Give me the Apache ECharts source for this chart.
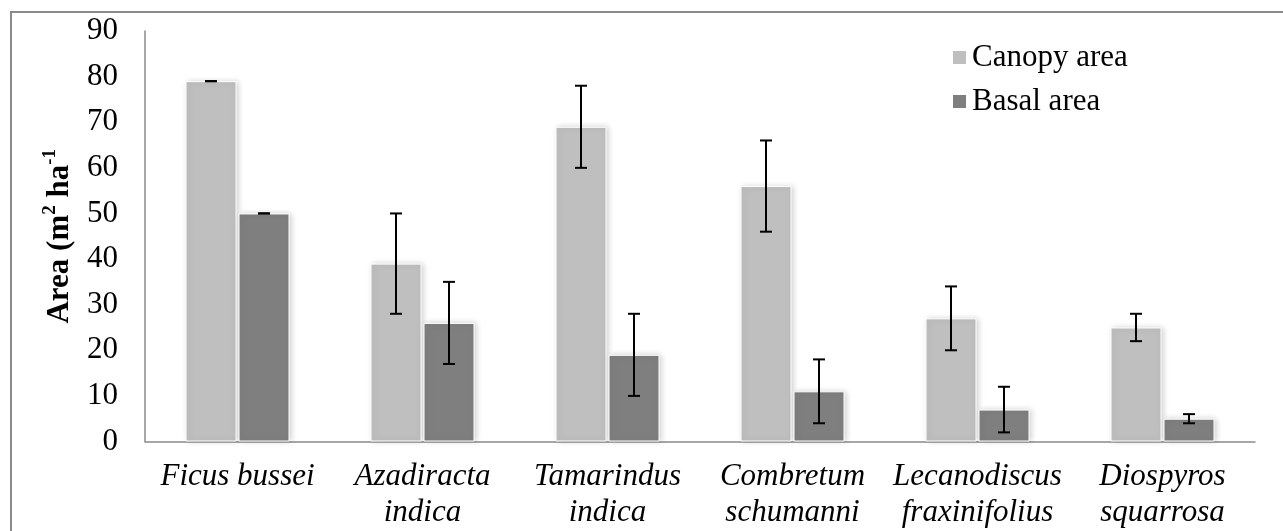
<!DOCTYPE html>
<html>
<head>
<meta charset="utf-8">
<script src="https://cdn.jsdelivr.net/npm/echarts@6/dist/echarts.min.js"></script>
<style>
    html, body { margin: 0; padding: 0; background: #fff; }
    #chart { width: 1283px; height: 531px; }
</style>
</head>
<body>
<div id="chart"></div>
<script>
// data
var categories = ['Ficus bussei', 'Azadiracta\nindica', 'Tamarindus\nindica',
    'Combretum\nschumanni', 'Lecanodiscus\nfraxinifolius', 'Diospyros\nsquarrosa'];
var canopyArea = [79, 39, 69, 56, 27, 25];
var canopyErr = [0, 11, 9, 10, 7, 3];
var basalArea = [50, 26, 19, 11, 7, 5];
var basalErr = [0, 9, 9, 7, 5, 1];
var yTicks = [0, 10, 20, 30, 40, 50, 60, 70, 80, 90];

var barW = 51;
var barGapPx = 2;
var serif = 'Liberation Serif, Times New Roman, serif';

var myChart = echarts.init(document.getElementById('chart'), null, { renderer: 'canvas' });

// error bar drawn on top of a bar, shifted to that bar's centre
function errorBars(values, errs, shift) {
    var data = values.map(function (v, i) { return [i, v - errs[i], v + errs[i]]; });
    return {
        type: 'custom',
        silent: true,
        z: 5,
        data: data,
        renderItem: function (params, api) {
            var lo = api.coord([api.value(0), api.value(1)]);
            var hi = api.coord([api.value(0), api.value(2)]);
            var x = lo[0] + shift;
            var cap = 6;
            var st = { stroke: '#000', lineWidth: 2 };
            return {
                type: 'group',
                children: [
                    { type: 'line', shape: { x1: x, y1: hi[1], x2: x, y2: lo[1] }, style: st },
                    { type: 'line', shape: { x1: x - cap, y1: hi[1], x2: x + cap, y2: hi[1] }, style: st },
                    { type: 'line', shape: { x1: x - cap, y1: lo[1], x2: x + cap, y2: lo[1] }, style: st }
                ]
            };
        }
    };
}

var half = barW / 2 + barGapPx / 2;

myChart.setOption({
    animation: false,
    graphic: [{
        type: 'rect',
        shape: { x: 11, y: 12, width: 1400, height: 700 },
        style: { fill: 'none', stroke: '#8a8a8a', lineWidth: 2 },
        silent: true
    }],
    legend: {
        orient: 'vertical',
        left: 946,
        top: 37,
        icon: 'rect',
        itemWidth: 15,
        itemHeight: 15,
        itemGap: 13,
        data: ['Canopy area', 'Basal area'],
        textStyle: { fontFamily: serif, fontSize: 31, color: '#000', lineHeight: 30 }
    },
    grid: { left: 145, right: 28, top: 31, bottom: 89.5, outerBoundsMode: 'none' },
    xAxis: {
        type: 'category',
        data: categories,
        axisLine: { lineStyle: { color: '#8a8a8a', width: 1.5 } },
        axisTick: { show: false },
        axisLabel: {
            interval: 0,
            margin: 17,
            fontFamily: serif,
            fontStyle: 'italic',
            fontSize: 31,
            lineHeight: 36,
            color: '#000'
        }
    },
    yAxis: {
        type: 'value',
        min: yTicks[0],
        max: yTicks[yTicks.length - 1],
        interval: yTicks[1] - yTicks[0],
        name: '{t|Area (m}{s|2}{t| ha}{s|-1}',
        nameLocation: 'middle',
        nameGap: 70,
        nameTextStyle: {
            rich: {
                t: { fontFamily: serif, fontWeight: 'bold', fontSize: 31, color: '#000', lineHeight: 34, verticalAlign: 'bottom' },
                s: { fontFamily: serif, fontWeight: 'bold', fontSize: 19, color: '#000', lineHeight: 18, verticalAlign: 'top' }
            }
        },
        axisLine: { show: true, lineStyle: { color: '#8a8a8a', width: 1.5 } },
        axisTick: { show: false },
        splitLine: { show: false },
        axisLabel: { margin: 27, fontFamily: serif, fontSize: 31, color: '#000' }
    },
    series: [
        {
            name: 'Canopy area',
            type: 'bar',
            barWidth: barW,
            barGap: (barGapPx / barW * 100) + '%',
            data: canopyArea,
            itemStyle: {
                color: '#bfbfbf',
                borderColor: '#fff',
                borderWidth: 1,
                shadowBlur: 6,
                shadowColor: 'rgba(0,0,0,0.18)',
                shadowOffsetX: 2
            }
        },
        {
            name: 'Basal area',
            type: 'bar',
            barWidth: barW,
            data: basalArea,
            itemStyle: {
                color: '#7f7f7f',
                borderColor: '#fff',
                borderWidth: 1,
                shadowBlur: 6,
                shadowColor: 'rgba(0,0,0,0.18)',
                shadowOffsetX: 2
            }
        },
        errorBars(canopyArea, canopyErr, -half),
        errorBars(basalArea, basalErr, half)
    ]
});
</script>
</body>
</html>
